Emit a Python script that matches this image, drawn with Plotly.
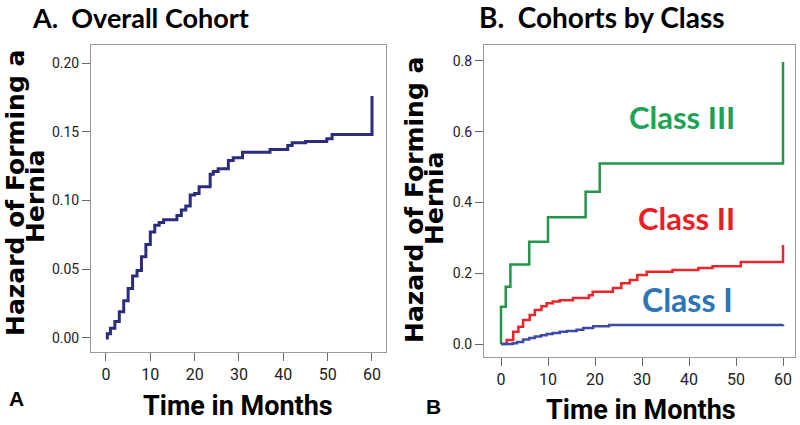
import plotly.graph_objects as go

# ---------------- data ----------------
overall_months = [0, 0.3, 1, 2, 3, 4, 5, 6, 7, 8, 9, 10, 11, 12, 13, 16, 17, 18, 19, 20,
                  21, 23.5, 24.2, 25.3, 27.6, 28.7, 30.8, 37, 41, 42, 45, 49.8, 51, 60, 60]
overall_hazard = [0, 0.003, 0.007, 0.012, 0.019, 0.027, 0.036, 0.045, 0.049, 0.059, 0.068,
                  0.077, 0.082, 0.084, 0.086, 0.089, 0.093, 0.096, 0.104, 0.105, 0.110,
                  0.119, 0.121, 0.123, 0.129, 0.131, 0.135, 0.137, 0.140, 0.142, 0.143,
                  0.145, 0.148, 0.148, 0.176]

class3_months = [0, 0, 1, 2, 6, 10, 18, 21, 60, 60]
class3_hazard = [0, 0.105, 0.162, 0.225, 0.289, 0.358, 0.430, 0.510, 0.510, 0.797]

class2_months = [0, 1.2, 2.6, 3.7, 4.7, 6.1, 7.2, 8.6, 9.7, 11.0, 12.5, 15.3, 18.7, 19.5,
                 23.8, 25.6, 27.4, 29.0, 31.0, 36.5, 42.0, 45.0, 51.0, 60, 60]
class2_hazard = [0, 0.011, 0.035, 0.049, 0.068, 0.082, 0.096, 0.107, 0.115, 0.120, 0.124,
                 0.130, 0.138, 0.148, 0.158, 0.172, 0.181, 0.195, 0.204, 0.209, 0.215,
                 0.220, 0.232, 0.232, 0.280]

class1_months = [0, 2.5, 3.4, 4.7, 6.0, 7.2, 8.5, 9.7, 11.0, 12.5, 14.0, 16.1, 17.5,
                 19.6, 23.0, 60]
class1_hazard = [0, 0.002, 0.006, 0.013, 0.017, 0.021, 0.025, 0.028, 0.031, 0.035, 0.037,
                 0.040, 0.045, 0.050, 0.054, 0.055]

x_ticks = [0, 10, 20, 30, 40, 50, 60]
left_y_ticks = [0.00, 0.05, 0.10, 0.15, 0.20]
right_y_ticks = [0.0, 0.2, 0.4, 0.6, 0.8]

# ---------------- styles ----------------
W, H = 800, 425
COND = "Roboto, sans-serif"
TITLE_FONT = "Lato, Open Sans, sans-serif"
YT_FONT = "DejaVu Sans, Verdana, sans-serif"


def px(x):
    return x / W


def py(y):
    return 1 - y / H


fig = go.Figure()

fig.add_trace(go.Scatter(x=overall_months, y=overall_hazard, mode="lines",
                         line=dict(shape="hv", color="#2B2D7C", width=3),
                         xaxis="x", yaxis="y", showlegend=False))
fig.add_trace(go.Scatter(x=class3_months, y=class3_hazard, mode="lines",
                         line=dict(shape="hv", color="#23964A", width=2.5),
                         xaxis="x2", yaxis="y2", showlegend=False))
fig.add_trace(go.Scatter(x=class2_months, y=class2_hazard, mode="lines",
                         line=dict(shape="hv", color="#E8262E", width=2.5),
                         xaxis="x2", yaxis="y2", showlegend=False))
fig.add_trace(go.Scatter(x=class1_months, y=class1_hazard, mode="lines",
                         line=dict(shape="hv", color="#3D4DA6", width=2.5),
                         xaxis="x2", yaxis="y2", showlegend=False))

axis_common = dict(showgrid=False, zeroline=False, showline=True, mirror=True,
                   linecolor="#9A9A9A", linewidth=1, ticks="outside", ticklen=8,
                   tickcolor="#6A6A6A", tickwidth=1, automargin=False)

fig.update_layout(
    width=W, height=H, autosize=False,
    margin=dict(l=0, r=0, t=0, b=0, pad=0),
    paper_bgcolor="white", plot_bgcolor="white",
    xaxis=dict(domain=[px(91), px(386)], range=[-3.38, 63.16], tickvals=x_ticks,
               tickfont=dict(family=COND, size=16, color="#222"), anchor="y",
               **axis_common),
    yaxis=dict(domain=[py(352), py(45)], range=[-0.0102, 0.2131], tickvals=left_y_ticks,
               ticktext=[f"{v:.2f}" for v in left_y_ticks],
               tickfont=dict(family=COND, size=14, color="#222"), anchor="x",
               **axis_common),
    xaxis2=dict(domain=[px(484), px(795)], range=[-3.62, 62.55], tickvals=x_ticks,
                tickfont=dict(family=COND, size=16, color="#222"), anchor="y2",
                **axis_common),
    yaxis2=dict(domain=[py(357), py(45)], range=[-0.0367, 0.845], tickvals=right_y_ticks,
                ticktext=[f"{v:.1f}" for v in right_y_ticks],
                tickfont=dict(family=COND, size=14, color="#222"), anchor="x2",
                **axis_common),
)

anns = [
    dict(text="<b>A.\u00a0 Overall Cohort</b>", x=px(30), y=py(17), xanchor="left",
         font=dict(family=TITLE_FONT, size=27, color="black")),
    dict(text="<b>B.\u00a0 Cohorts by Class</b>", x=px(477), y=py(17), xanchor="left",
         font=dict(family=TITLE_FONT, size=28, color="black")),
    dict(text="<b>Hazard of Forming a</b>", x=px(15), y=py(193), textangle=-90,
         font=dict(family=YT_FONT, size=25, color="black")),
    dict(text="<b>Hernia</b>", x=px(35), y=py(197), textangle=-90,
         font=dict(family=YT_FONT, size=25, color="black")),
    dict(text="<b>Hazard of Forming a</b>", x=px(414), y=py(200), textangle=-90,
         font=dict(family=YT_FONT, size=25, color="black")),
    dict(text="<b>Hernia</b>", x=px(435), y=py(198), textangle=-90,
         font=dict(family=YT_FONT, size=25, color="black")),
    dict(text="<b>Time in Months</b>", x=px(238), y=py(406),
         font=dict(family=COND, size=27, color="black")),
    dict(text="<b>Time in Months</b>", x=px(641), y=py(410),
         font=dict(family=COND, size=27, color="black")),
    dict(text="<b>A</b>", x=px(16), y=py(398),
         font=dict(family="Liberation Sans, Arial, sans-serif", size=21, color="black")),
    dict(text="<b>B</b>", x=px(433), y=py(406),
         font=dict(family="Liberation Sans, Arial, sans-serif", size=21, color="black")),
    dict(text="<b>Class III</b>", x=px(737), y=py(117), xanchor="right",
         font=dict(family=TITLE_FONT, size=31, color="#1EA255")),
    dict(text="<b>Class II</b>", x=px(737), y=py(218), xanchor="right",
         font=dict(family=TITLE_FONT, size=31, color="#EE1C25")),
    dict(text="<b>Class I</b>", x=px(735), y=py(299), xanchor="right",
         font=dict(family=TITLE_FONT, size=32, color="#2E74B8")),
]
for a in anns:
    a.update(xref="paper", yref="paper", showarrow=False, yanchor="middle")
    a.setdefault("xanchor", "center")
fig.update_layout(annotations=anns)

fig.write_html("out.html",
               config={"displayModeBar": False, "staticPlot": True},
               post_script="document.body.style.margin='0';document.body.style.overflow='hidden';")
